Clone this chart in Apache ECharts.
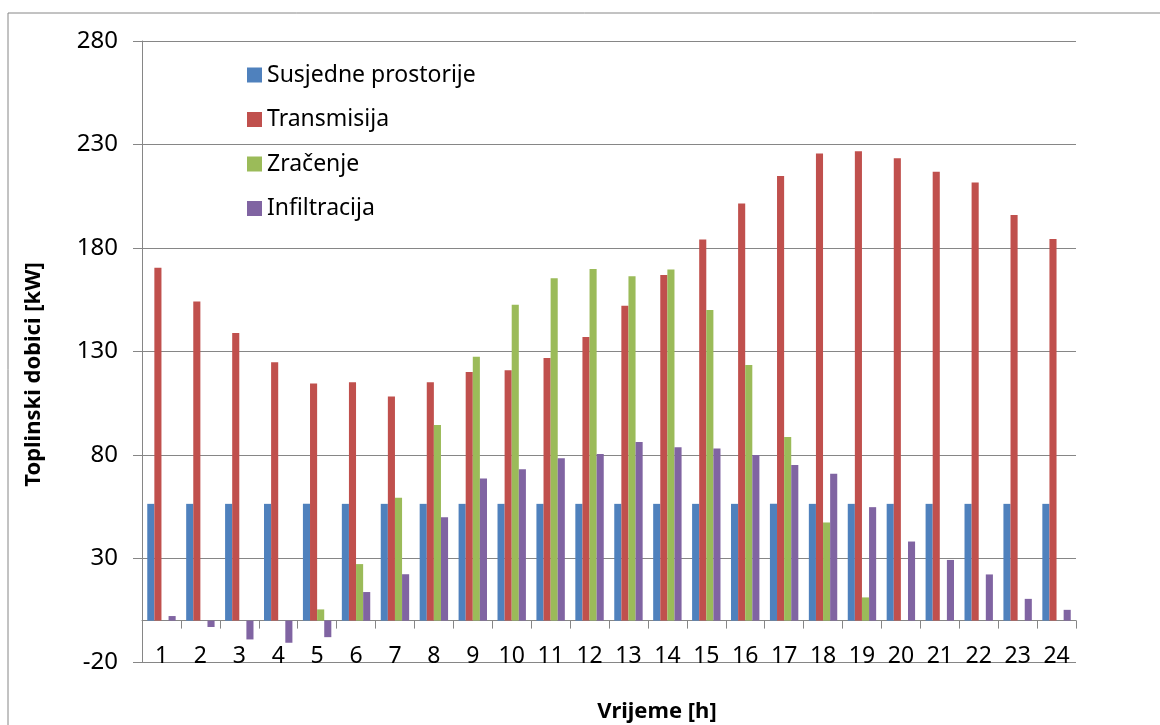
<!DOCTYPE html>
<html>
<head>
<meta charset="utf-8">
<title>Toplinski dobici</title>
<script src="https://cdn.jsdelivr.net/npm/echarts@6/dist/echarts.min.js"></script>
<style>
  html, body { margin: 0; padding: 0; background: #fff; }
  #chart { width: 1160px; height: 725px; }
</style>
</head>
<body>
<div id="chart"></div>
<script>
// sati (x os)
const hours = ['1', '2', '3', '4', '5', '6', '7', '8', '9', '10', '11', '12',
  '13', '14', '15', '16', '17', '18', '19', '20', '21', '22', '23', '24']

// toplinski dobici po satu [kW]
const susjedne = [56.4, 56.4, 56.4, 56.4, 56.4, 56.4, 56.4, 56.4, 56.4, 56.4, 56.4, 56.4,
  56.4, 56.4, 56.4, 56.4, 56.4, 56.4, 56.4, 56.4, 56.4, 56.4, 56.4, 56.4]
const transmisija = [170.4, 154.2, 138.9, 124.8, 114.6, 115.1, 108.3, 115.1, 120.1, 121.0, 126.8, 137.0,
  152.1, 166.9, 184.1, 201.5, 214.8, 225.6, 226.7, 223.4, 216.8, 211.6, 196.0, 184.3]
const zracenje = [0, 0, 0, 0, 5.4, 27.3, 59.4, 94.5, 127.5, 152.6, 165.4, 169.8,
  166.3, 169.6, 150.0, 123.5, 88.7, 47.4, 11.2, 0, 0, 0, 0, 0]
const infiltracija = [2.2, -3.1, -9.1, -10.7, -8.0, 13.8, 22.4, 49.9, 68.6, 73.1, 78.4, 80.5,
  86.3, 83.7, 83.1, 80.0, 75.2, 71.0, 54.8, 38.2, 29.3, 22.3, 10.5, 5.2]

const seriesNames = ['Susjedne prostorije', 'Transmisija', 'Zračenje', 'Infiltracija']

// y os
const yMin = -20
const yMax = 280
const yStep = 50

const FONT = 'Noto Sans'
const GRAY = '#868686'

const gridTop = 41
const gridBottom = 63
const plotHeight = 725 - gridTop - gridBottom
// x os stoji na nuli, ne na dnu
const zeroOffset = -plotHeight * (0 - yMin) / (yMax - yMin)

const chart = echarts.init(document.getElementById('chart'))

const bar = (name, data, color) => ({
  name,
  type: 'bar',
  data,
  barGap: '0%',
  barCategoryGap: '27%',
  itemStyle: { color },
  emphasis: { disabled: true }
})

const option = {
  animation: false,
  textStyle: { fontFamily: FONT },
  grid: { left: 142, right: 84, top: gridTop, bottom: gridBottom, outerBoundsMode: 'none' },
  legend: {
    orient: 'vertical',
    left: 247,
    top: 63.5,
    padding: 0,
    icon: 'rect',
    itemWidth: 15,
    itemHeight: 15,
    itemGap: 21.5,
    itemStyle: { borderWidth: 0 },
    textStyle: { fontFamily: FONT, fontSize: 23, color: '#000', lineHeight: 23 },
    data: seriesNames
  },
  xAxis: {
    type: 'category',
    data: hours,
    offset: zeroOffset,
    name: 'Vrijeme [h]',
    nameLocation: 'middle',
    nameGap: 80,
    nameTextStyle: { fontFamily: FONT, fontSize: 22, fontWeight: 'bold', color: '#000', padding: [0, 0, 0, 96] },
    axisLine: { onZero: false, lineStyle: { color: GRAY, width: 1 } },
    axisTick: { show: true, length: 8, lineStyle: { color: GRAY } },
    axisLabel: { interval: 0, margin: 24, fontSize: 23, color: '#000' },
    splitLine: { show: false }
  },
  yAxis: {
    type: 'value',
    min: yMin,
    max: yMax,
    interval: yStep,
    name: 'Toplinski dobici [kW]',
    nameLocation: 'middle',
    nameGap: 97,
    nameRotate: 90,
    nameTextStyle: { fontFamily: FONT, fontSize: 22, fontWeight: 'bold', color: '#000', padding: [0, 46, 0, 0] },
    axisLine: { show: true, onZero: false, lineStyle: { color: GRAY, width: 1 } },
    axisTick: { show: true, length: 9, lineStyle: { color: GRAY } },
    axisLabel: { margin: 24, fontSize: 24, color: '#000', showMinLabel: true, showMaxLabel: true },
    splitLine: { show: true, lineStyle: { color: GRAY, width: 1 } }
  },
  graphic: [
    {
      type: 'rect',
      silent: true,
      shape: { x: 8, y: 13, width: 1200, height: 800 },
      style: { fill: 'none', stroke: GRAY, lineWidth: 1 }
    }
  ],
  series: [
    bar(seriesNames[0], susjedne, '#4F81BD'),
    bar(seriesNames[1], transmisija, '#C0504D'),
    bar(seriesNames[2], zracenje, '#9BBB59'),
    bar(seriesNames[3], infiltracija, '#8064A2')
  ]
}

chart.setOption(option)
</script>
</body>
</html>
